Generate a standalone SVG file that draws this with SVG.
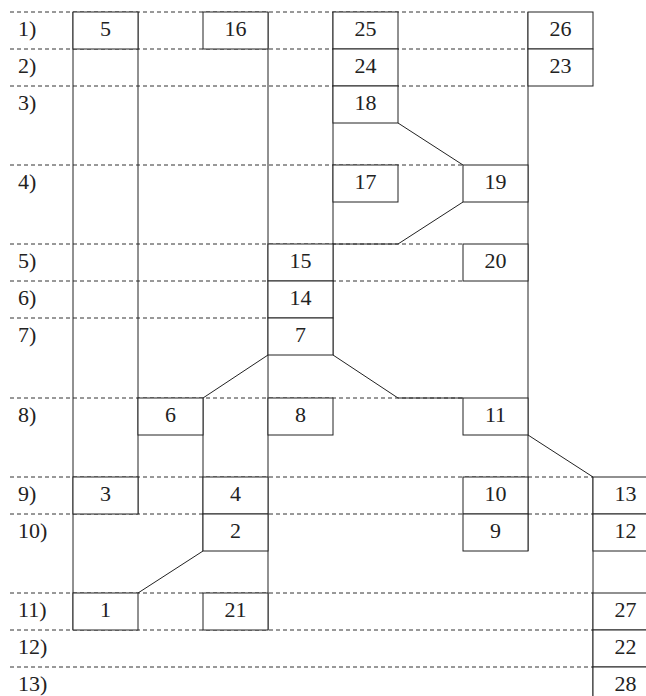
<svg xmlns="http://www.w3.org/2000/svg" width="646" height="696" viewBox="0 0 646 696">
<style>
.bg{fill:#fff}
.grid line{stroke:#333;stroke-width:1;stroke-dasharray:4 3}
.node rect{fill:#fff;stroke:#222;stroke-width:1}
.node text,.lbl text{font-family:"Liberation Serif","Times New Roman",serif;font-size:22px;fill:#222}
.node text{text-anchor:middle}
#connectors line,#connectors polyline{stroke:#222;stroke-width:1;fill:none}
</style>
<rect class="bg" x="0" y="0" width="646" height="696"/>
<g class="grid">
<line x1="10" y1="12" x2="528" y2="12"/>
<line x1="10" y1="49" x2="528" y2="49"/>
<line x1="10" y1="86" x2="528" y2="86"/>
<line x1="10" y1="165" x2="463" y2="165"/>
<line x1="10" y1="244" x2="463" y2="244"/>
<line x1="10" y1="281" x2="463" y2="281"/>
<line x1="10" y1="318" x2="268" y2="318"/>
<line x1="10" y1="398" x2="463" y2="398"/>
<line x1="10" y1="477" x2="593" y2="477"/>
<line x1="10" y1="514" x2="593" y2="514"/>
<line x1="10" y1="593" x2="593" y2="593"/>
<line x1="10" y1="630" x2="593" y2="630"/>
<line x1="10" y1="667" x2="593" y2="667"/>
</g>
<g class="lbl">
<text x="18" y="36">1)</text>
<text x="18" y="73">2)</text>
<text x="18" y="110">3)</text>
<text x="18" y="189">4)</text>
<text x="18" y="268">5)</text>
<text x="18" y="305">6)</text>
<text x="18" y="342">7)</text>
<text x="18" y="422">8)</text>
<text x="18" y="501">9)</text>
<text x="18" y="538">10)</text>
<text x="18" y="617">11)</text>
<text x="18" y="654">12)</text>
<text x="18" y="691">13)</text>
</g>
<g id="connectors">
<line x1="73" y1="12" x2="73" y2="630"/>
<line x1="138" y1="12" x2="138" y2="514"/>
<line x1="203" y1="398" x2="203" y2="551"/>
<line x1="268" y1="12" x2="268" y2="630"/>
<line x1="333" y1="12" x2="333" y2="355"/>
<line x1="528" y1="12" x2="528" y2="551"/>
<line x1="593" y1="477" x2="593" y2="700"/>
<polyline points="398,123 463,165"/>
<polyline points="463,202 398,244 333,244"/>
<polyline points="268,355 203,398"/>
<polyline points="333,355 398,398 463,398"/>
<polyline points="528,435 593,477"/>
<polyline points="203,551 138,593"/>
</g>
<g id="n5" class="node"><rect x="73" y="12" width="65" height="37"/><text x="105.5" y="36">5</text></g>
<g id="n16" class="node"><rect x="203" y="12" width="65" height="37"/><text x="235.5" y="36">16</text></g>
<g id="n25" class="node"><rect x="333" y="12" width="65" height="37"/><text x="365.5" y="36">25</text></g>
<g id="n26" class="node"><rect x="528" y="12" width="65" height="37"/><text x="560.5" y="36">26</text></g>
<g id="n24" class="node"><rect x="333" y="49" width="65" height="37"/><text x="365.5" y="73">24</text></g>
<g id="n23" class="node"><rect x="528" y="49" width="65" height="37"/><text x="560.5" y="73">23</text></g>
<g id="n18" class="node"><rect x="333" y="86" width="65" height="37"/><text x="365.5" y="110">18</text></g>
<g id="n17" class="node"><rect x="333" y="165" width="65" height="37"/><text x="365.5" y="189">17</text></g>
<g id="n19" class="node"><rect x="463" y="165" width="65" height="37"/><text x="495.5" y="189">19</text></g>
<g id="n15" class="node"><rect x="268" y="244" width="65" height="37"/><text x="300.5" y="268">15</text></g>
<g id="n20" class="node"><rect x="463" y="244" width="65" height="37"/><text x="495.5" y="268">20</text></g>
<g id="n14" class="node"><rect x="268" y="281" width="65" height="37"/><text x="300.5" y="305">14</text></g>
<g id="n7" class="node"><rect x="268" y="318" width="65" height="37"/><text x="300.5" y="342">7</text></g>
<g id="n6" class="node"><rect x="138" y="398" width="65" height="37"/><text x="170.5" y="422">6</text></g>
<g id="n8" class="node"><rect x="268" y="398" width="65" height="37"/><text x="300.5" y="422">8</text></g>
<g id="n11" class="node"><rect x="463" y="398" width="65" height="37"/><text x="495.5" y="422">11</text></g>
<g id="n3" class="node"><rect x="73" y="477" width="65" height="37"/><text x="105.5" y="501">3</text></g>
<g id="n4" class="node"><rect x="203" y="477" width="65" height="37"/><text x="235.5" y="501">4</text></g>
<g id="n10" class="node"><rect x="463" y="477" width="65" height="37"/><text x="495.5" y="501">10</text></g>
<g id="n13" class="node"><rect x="593" y="477" width="65" height="37"/><text x="625.5" y="501">13</text></g>
<g id="n2" class="node"><rect x="203" y="514" width="65" height="37"/><text x="235.5" y="538">2</text></g>
<g id="n9" class="node"><rect x="463" y="514" width="65" height="37"/><text x="495.5" y="538">9</text></g>
<g id="n12" class="node"><rect x="593" y="514" width="65" height="37"/><text x="625.5" y="538">12</text></g>
<g id="n1" class="node"><rect x="73" y="593" width="65" height="37"/><text x="105.5" y="617">1</text></g>
<g id="n21" class="node"><rect x="203" y="593" width="65" height="37"/><text x="235.5" y="617">21</text></g>
<g id="n27" class="node"><rect x="593" y="593" width="65" height="37"/><text x="625.5" y="617">27</text></g>
<g id="n22" class="node"><rect x="593" y="630" width="65" height="37"/><text x="625.5" y="654">22</text></g>
<g id="n28" class="node"><rect x="593" y="667" width="65" height="37"/><text x="625.5" y="691">28</text></g>
</svg>
